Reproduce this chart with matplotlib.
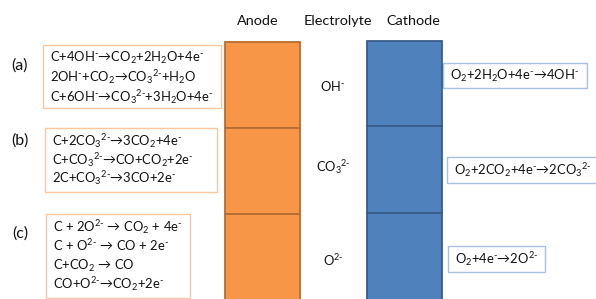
import matplotlib
matplotlib.use('Agg')
import matplotlib.pyplot as plt
from matplotlib.patches import Rectangle

plt.rcParams['mathtext.fontset'] = 'custom'
plt.rcParams['mathtext.rm'] = 'Lato'
plt.rcParams['mathtext.it'] = 'Lato'
plt.rcParams['mathtext.bf'] = 'Lato:bold'
plt.rcParams['mathtext.sf'] = 'Lato'
plt.rcParams['mathtext.default'] = 'rm'
plt.rcParams['mathtext.fallback'] = 'stixsans'
plt.rcParams['font.family'] = ['Lato', 'DejaVu Sans']

# ---- content ----
headers = ['Anode', 'Electrolyte', 'Cathode']
row_labels = ['(a)', '(b)', '(c)']
anode_reactions = [
    [r'$C{+}4OH^{‐}→CO_2{+}2H_2O{+}4e^{‐}$',
     r'$2OH^{‐}{+}CO_2→CO_3{}^{2‐}{+}H_2O$',
     r'$C{+}6OH^{‐}→CO_3{}^{2‐}{+}3H_2O{+}4e^{‐}$'],
    [r'$C{+}2CO_3{}^{2‐}→3CO_2{+}4e^{‐}$',
     r'$C{+}CO_3{}^{2‐}→CO{+}CO_2{+}2e^{‐}$',
     r'$2C{+}CO_3{}^{2‐}→3CO{+}2e^{‐}$'],
    [r'$C\ {+}\ 2O^{2‐}\ →\ CO_2\ {+}\ 4e^{‐}$',
     r'$C\ {+}\ O^{2‐}\ →\ CO\ {+}\ 2e^{‐}$',
     r'$C{+}CO_2\ →\ CO$',
     r'$CO{+}O^{2‐}→CO_2{+}2e^{‐}$'],
]
electrolyte_ions = [r'$OH^{‐}$', r'$CO_3{}^{2‐}$', r'$O^{2‐}$']
cathode_reactions = [
    r'$O_2{+}2H_2O{+}4e^{‐}→4OH^{‐}$',
    r'$O_2{+}2CO_2{+}4e^{‐}→2CO_3{}^{2‐}$',
    r'$O_2{+}4e^{‐}→2O^{2‐}$',
]

# ---- layout (pixels, y downward) ----
W, H = 596, 299
fig = plt.figure(figsize=(W / 100, H / 100), dpi=100)
ax = fig.add_axes([0, 0, 1, 1])
ax.set_xlim(0, W)
ax.set_ylim(H, 0)
ax.axis('off')

FS = 9.4
FS_R = 9.4
orange, orange_edge = '#F79646', '#B66D31'
blue, blue_edge = '#4F81BD', '#385D8A'
TXT = '#111111'

# electrode columns
anode_x, anode_w = 224.5, 75.5
cath_x, cath_w = 367, 75
anode_rows = [42, 128, 214, 305]
cath_rows = [41, 126, 213, 305]
for i in range(3):
    ax.add_patch(Rectangle((anode_x, anode_rows[i]), anode_w, anode_rows[i + 1] - anode_rows[i],
                           facecolor=orange, edgecolor=orange_edge, lw=1.3, zorder=2))
    ax.add_patch(Rectangle((cath_x, cath_rows[i]), cath_w, cath_rows[i + 1] - cath_rows[i],
                           facecolor=blue, edgecolor=blue_edge, lw=1.3, zorder=2))

# headers
for txt, x in zip(headers, [258, 338, 413]):
    ax.text(x, 21, txt, ha='center', va='center', fontsize=10.4, color=TXT)

# left reaction boxes
left_boxes = [(43, 45, 178, 63), (45, 128, 172, 64), (46, 214, 144, 84)]
left_text_x = [50, 52, 53]
left_baselines = [[62, 82, 102], [146, 165, 183], [232, 251, 270, 289]]
label_y = [66, 141, 234]
for i in range(3):
    bx, by, bw, bh = left_boxes[i]
    ax.add_patch(Rectangle((bx, by), bw, bh, facecolor='white', edgecolor='#F9C8A0', lw=1.0, zorder=1))
    for line, yb in zip(anode_reactions[i], left_baselines[i]):
        ax.text(left_text_x[i], yb, line, ha='left', va='baseline', fontsize=FS, color=TXT)
    ax.text(20, label_y[i], row_labels[i], ha='center', va='center', fontsize=11.5, color=TXT)

# electrolyte ions
for ion, y in zip(electrolyte_ions, [86, 167, 260]):
    ax.text(333, y, ion, ha='center', va='center', fontsize=9.3, color=TXT)

# right reaction boxes
right_boxes = [(443, 63, 144, 25), (447, 157, 152, 26), (448, 246, 97, 26)]
right_text_x = [450, 454, 455]
for i in range(3):
    bx, by, bw, bh = right_boxes[i]
    ax.add_patch(Rectangle((bx, by), bw, bh, facecolor='white', edgecolor='#A9C0DE', lw=1.0, zorder=1))
    ax.text(right_text_x[i], by + bh / 2 + 4.5, cathode_reactions[i], ha='left', va='baseline',
            fontsize=FS_R, color=TXT)

fig.savefig('out.png', dpi=100)
